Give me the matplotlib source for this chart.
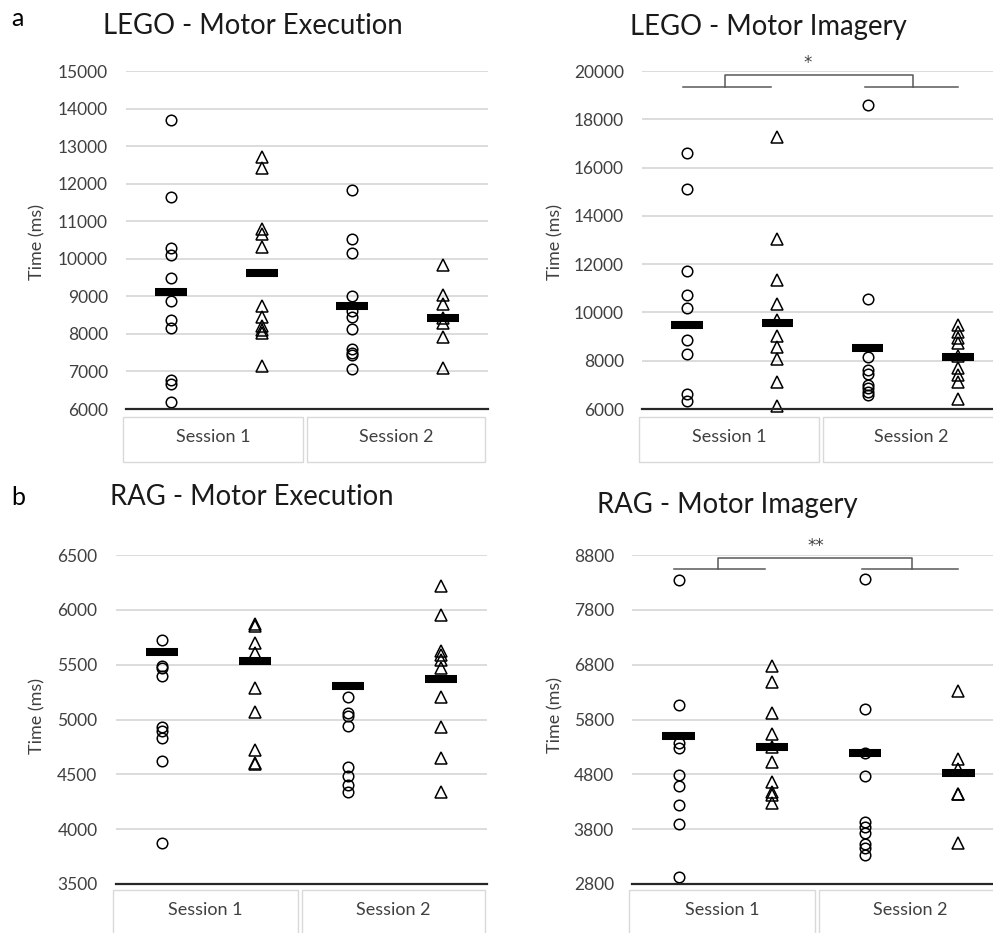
import matplotlib.pyplot as plt
from matplotlib.transforms import blended_transform_factory
from matplotlib.patches import Rectangle

plt.rcParams['font.family'] = ['Lato', 'DejaVu Sans']

# ====== Data (ms): circles = group 1, triangles = group 2 ======
# LEGO - Motor Execution
lego_me_s1_g1 = [13695, 11656, 10282, 10105, 9484, 8863, 8358, 8145, 6780, 6674, 6186]
lego_me_s1_g2 = [12720, 12410, 10800, 10650, 10326, 8748, 8447, 8200, 8100, 8030, 7152]
lego_me_s2_g1 = [11833, 10530, 10145, 9017, 8609, 8457, 8122, 7597, 7500, 7438, 7065]
lego_me_s2_g2 = [9834, 9035, 8796, 8420, 8290, 7925, 7083]
lego_me_means = [9112, 9608, 8742, 8431]

# LEGO - Motor Imagery
lego_mi_s1_g1 = [16621, 15103, 11697, 10703, 10179, 8841, 8290, 6621, 6317]
lego_mi_s1_g2 = [17283, 13034, 11352, 10345, 9697, 9034, 8566, 8069, 7117, 6110]
lego_mi_s2_g1 = [18607, 10552, 8167, 7600, 7450, 7000, 6850, 6700, 6580]
lego_mi_s2_g2 = [9480, 9203, 8928, 8721, 8200, 7686, 7408, 7131, 6400]
lego_mi_means = [9490, 9559, 8514, 8167]

# RAG - Motor Execution
rag_me_s1_g1 = [5725, 5491, 5473, 5397, 4929, 4898, 4828, 4625, 3877]
rag_me_s1_g2 = [5871, 5853, 5694, 5603, 5290, 5065, 4722, 4606, 4594]
rag_me_s2_g1 = [5208, 5062, 5032, 4944, 4570, 4485, 4403, 4342]
rag_me_s2_g2 = [6217, 5953, 5628, 5588, 5543, 5466, 5208, 4929, 4652, 4342]
rag_me_means = [5619, 5530, 5305, 5366]

# RAG - Motor Imagery
rag_mi_s1_g1 = [8344, 6065, 5366, 5275, 4788, 4593, 4241, 3888, 2934]
rag_mi_s1_g2 = [6776, 6490, 5924, 5530, 5304, 5031, 4666, 4484, 4423, 4271]
rag_mi_s2_g1 = [8356, 5986, 5184, 4776, 3937, 3845, 3724, 3530, 3451, 3329]
rag_mi_s2_g2 = [6326, 5074, 4900, 4441, 4441, 3542]
rag_mi_means = [5505, 5304, 5184, 4819]

sessions = ["Session 1", "Session 2"]

W, H = 993, 933
fig = plt.figure(figsize=(W / 100, H / 100), dpi=100)

GRID = '#d9d9d9'
TXT = '#404040'


def px_axes(l, r, t, b):
    return fig.add_axes([l / W, 1 - b / H, (r - l) / W, (b - t) / H])


def draw_panel(ax, groups, means, yticks, box_top, box_bot):
    for i, vals in enumerate(groups):
        mk = 'o' if i % 2 == 0 else '^'
        ms = 7.6 if mk == 'o' else 8.4
        ax.plot([i] * len(vals), vals, ls='none', marker=mk, ms=ms, mfc='none',
                mec='black', mew=1.1, zorder=3, clip_on=False)
        ax.plot([i - 0.175, i + 0.175], [means[i], means[i]], color='black',
                lw=5.8, solid_capstyle='butt', zorder=4)
    ax.set_xlim(-0.5, 3.5)
    ax.set_ylim(yticks[0], yticks[-1])
    ax.set_yticks(yticks)
    ax.set_yticklabels([str(v) for v in yticks])
    ax.set_xticks([])
    ax.grid(axis='y', color=GRID, lw=1.3, zorder=0)
    ax.set_axisbelow(True)
    for s in ['top', 'right', 'left']:
        ax.spines[s].set_visible(False)
    ax.spines['bottom'].set_color('#262626')
    ax.spines['bottom'].set_linewidth(1.6)
    ax.spines['bottom'].set_zorder(5)
    ax.tick_params(axis='y', length=0, pad=13, labelsize=12.5, labelcolor=TXT)

    # session boxes under the axis
    tr = blended_transform_factory(ax.transData, fig.transFigure)
    for x0, x1, lab in [(-0.53, 1.46, sessions[0]), (1.50, 3.47, sessions[1])]:
        ax.add_patch(Rectangle((x0, 1 - box_bot / H), x1 - x0, (box_bot - box_top) / H,
                               transform=tr, fill=False, ec=GRID, lw=1.0, clip_on=False))
        ax.text((x0 + x1) / 2, 1 - (box_top + 20) / H, lab, transform=tr, ha='center',
                va='center', fontsize=13, color=TXT, clip_on=False)


def draw_bracket(ax, lo, hi, star, star_x, star_y):
    kw = dict(color='#595959', lw=1.1, clip_on=False, zorder=2)
    ax.plot([-0.05, 0.93], [lo, lo], **kw)
    ax.plot([1.97, 3.0], [lo, lo], **kw)
    ax.plot([0.42, 0.42, 2.5, 2.5], [lo, hi, hi, lo], **kw)
    ax.text(star_x, star_y, star, ha='center', va='center', fontsize=12, color=TXT,
            family='DejaVu Sans', clip_on=False)


# ====== a: LEGO ======
ax1 = px_axes(126, 488, 71, 409)
draw_panel(ax1, [lego_me_s1_g1, lego_me_s1_g2, lego_me_s2_g1, lego_me_s2_g2],
           lego_me_means, list(range(6000, 15001, 1000)), 417, 462)

ax2 = px_axes(642, 1003, 71, 409)
draw_panel(ax2, [lego_mi_s1_g1, lego_mi_s1_g2, lego_mi_s2_g1, lego_mi_s2_g2],
           lego_mi_means, list(range(6000, 20001, 2000)), 417, 462)
draw_bracket(ax2, 19352, 19821, '*', 1.34, 20350)

# ====== b: RAG ======
ax3 = px_axes(115.5, 487.5, 555, 884)
draw_panel(ax3, [rag_me_s1_g1, rag_me_s1_g2, rag_me_s2_g1, rag_me_s2_g2],
           rag_me_means, list(range(3500, 6501, 500)), 890, 945)

ax4 = px_axes(632, 1005, 555, 884)
draw_panel(ax4, [rag_mi_s1_g1, rag_mi_s1_g2, rag_mi_s2_g1, rag_mi_s2_g2],
           rag_mi_means, list(range(2800, 8801, 1000)), 890, 945)
draw_bracket(ax4, 8551, 8739, '**', 1.47, 8970)

# ====== titles, panel letters, axis labels ======
def ftxt(x, y, s, **kw):
    fig.text(x / W, 1 - y / H, s, **kw)

ftxt(253, 26, "LEGO - Motor Execution", ha='center', va='center', fontsize=19.8, color='#1a1a1a')
ftxt(768, 27, "LEGO - Motor Imagery", ha='center', va='center', fontsize=19.8, color='#1a1a1a')
ftxt(252, 497, "RAG - Motor Execution", ha='center', va='center', fontsize=19.8, color='#1a1a1a')
ftxt(727, 505, "RAG - Motor Imagery", ha='center', va='center', fontsize=19.8, color='#1a1a1a')
ftxt(17, 18, "a", ha='center', va='center', fontsize=18, color='black')
ftxt(18, 497, "b", ha='center', va='center', fontsize=18, color='black')

for x, y in [(37, 242), (555, 242), (37, 716), (555, 715)]:
    ftxt(x, y, "Time (ms)", ha='center', va='center', rotation=90, fontsize=13, color=TXT)

fig.savefig("out.png", dpi=100)
